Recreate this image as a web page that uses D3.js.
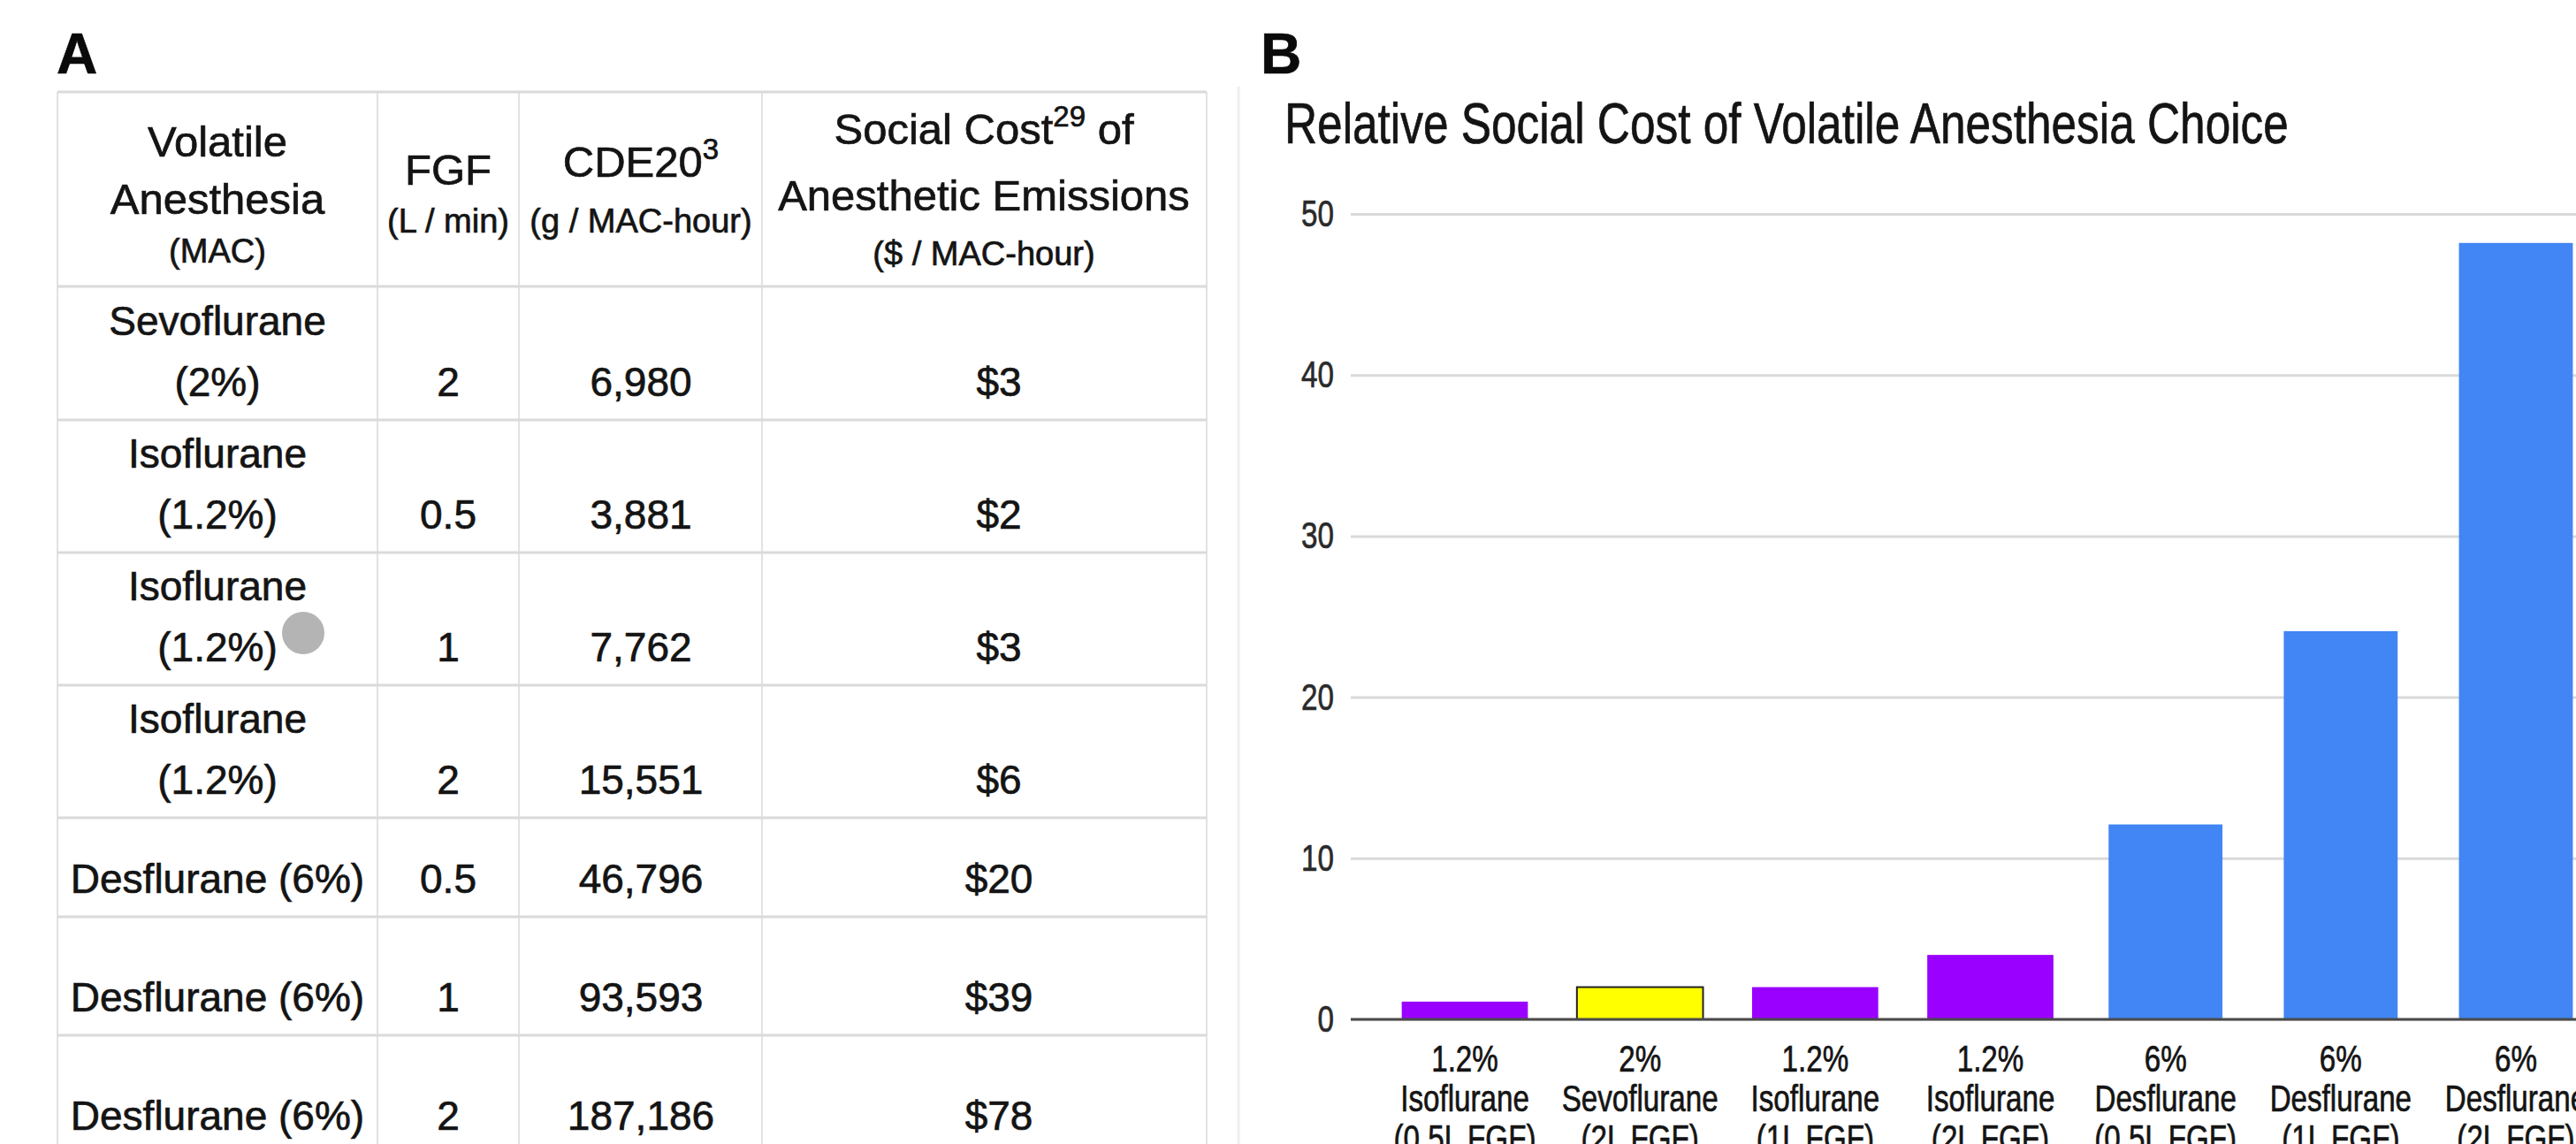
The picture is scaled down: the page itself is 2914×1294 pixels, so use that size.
<!DOCTYPE html>
<html>
<head>
<meta charset="utf-8">
<script src="https://cdn.jsdelivr.net/npm/d3@7"></script>
<style>
  body { margin: 0; background: #fff; }
  svg { display: block; font-family: "Liberation Sans", Arial, sans-serif; }
  svg text { stroke: currentColor; stroke-width: 0.7px; }
</style>
</head>
<body>
<script>
// ---- table data (panel A) ----
var agents = [["Sevoflurane", "(2%)"], ["Isoflurane", "(1.2%)"], ["Isoflurane", "(1.2%)"],
              ["Isoflurane", "(1.2%)"], ["Desflurane (6%)"], ["Desflurane (6%)"], ["Desflurane (6%)"]];
var fgf = ["2", "0.5", "1", "2", "0.5", "1", "2"];
var cde = ["6,980", "3,881", "7,762", "15,551", "46,796", "93,593", "187,186"];
var cost = ["$3", "$2", "$3", "$6", "$20", "$39", "$78"];

// header lines per column: [text, superscript, text after]
var headers = [
  [["Volatile"], ["Anesthesia"], ["(MAC)"]],
  [["FGF"], ["(L / min)"]],
  [["CDE20", "3"], ["(g / MAC-hour)"]],
  [["Social Cost", "29", " of"], ["Anesthetic Emissions"], ["($ / MAC-hour)"]]
];

// ---- chart data (panel B) ----
var chartTitle = "Relative Social Cost of Volatile Anesthesia Choice";
var barLabels = [
  ["1.2%", "Isoflurane", "(0.5L FGF)"],
  ["2%", "Sevoflurane", "(2L FGF)"],
  ["1.2%", "Isoflurane", "(1L FGF)"],
  ["1.2%", "Isoflurane", "(2L FGF)"],
  ["6%", "Desflurane", "(0.5L FGF)"],
  ["6%", "Desflurane", "(1L FGF)"],
  ["6%", "Desflurane", "(2L FGF)"]
];
var barValues = [1.1, 2, 2, 4, 12.1, 24.1, 48.2];
var barAgent = ["iso", "sevo", "iso", "iso", "des", "des", "des"];
var yTicks = [0, 10, 20, 30, 40, 50];

var width = 2914, height = 1294;
var ink = "#141414";

var svg = d3.select("body").append("svg")
    .attr("width", width)
    .attr("height", height);

svg.append("rect").attr("width", width).attr("height", height).attr("fill", "#fff");

// panel letters
svg.append("text").attr("x", 64).attr("y", 83).attr("font-size", 64)
    .attr("font-weight", "bold").style("color", "#0a0a0a").attr("fill", "#0a0a0a").text("A");
svg.append("text").attr("x", 1426).attr("y", 83).attr("font-size", 64)
    .attr("font-weight", "bold").style("color", "#0a0a0a").attr("fill", "#0a0a0a").text("B");

// ================= panel A : table =================
var colEdges = [65, 427, 587, 862, 1365];
var rowEdges = [104, 324, 475, 625, 775, 925, 1037, 1171, 1305];
var colMid = [246, 507, 725, 1130];
var headMid = [246, 507, 725, 1113];

var table = svg.append("g").attr("class", "table").style("color", ink);

// grid
table.selectAll(".vline")
    .data(colEdges)
    .enter().append("line")
    .attr("class", "vline")
    .attr("x1", function(d){ return d; })
    .attr("x2", function(d){ return d; })
    .attr("y1", rowEdges[0])
    .attr("y2", height)
    .attr("stroke", "#e2e2e2")
    .attr("stroke-width", 2);

table.selectAll(".hline")
    .data(rowEdges)
    .enter().append("line")
    .attr("class", "hline")
    .attr("x1", colEdges[0])
    .attr("x2", colEdges[colEdges.length - 1])
    .attr("y1", function(d){ return d; })
    .attr("y2", function(d){ return d; })
    .attr("stroke", "#dadada")
    .attr("stroke-width", 3);

// header text (baselines per column)
var headBase = [[177, 242, 297], [209, 263], [200, 263], [163, 238, 300]];
headers.forEach(function(lines, c){
    lines.forEach(function(ln, k){
        var small = (k === lines.length - 1 && lines.length > 1 && ln[0].charAt(0) === "(");
        var t = table.append("text")
            .attr("x", headMid[c])
            .attr("y", headBase[c][k])
            .attr("text-anchor", "middle")
            .attr("font-size", small ? 38 : 49)
            .attr("fill", ink);
        t.append("tspan").text(ln[0]);
        if (ln[1]) {
            t.append("tspan").attr("font-size", 33).attr("dy", -20).text(ln[1]);
            if (ln[2]) t.append("tspan").attr("dy", 20).text(ln[2]);
        }
    });
});

// body rows: text bottom aligned in each cell
agents.forEach(function(a, r){
    var bottom = rowEdges[r + 2];
    var base = bottom - 27;
    a.forEach(function(s, k){
        table.append("text")
            .attr("x", colMid[0])
            .attr("y", base - (a.length - 1 - k) * 69)
            .attr("text-anchor", "middle")
            .attr("font-size", 46)
            .attr("fill", ink)
            .text(s);
    });
    [fgf[r], cde[r], cost[r]].forEach(function(s, c){
        table.append("text")
            .attr("x", colMid[c + 1])
            .attr("y", base)
            .attr("text-anchor", "middle")
            .attr("font-size", 46)
            .attr("fill", ink)
            .text(s);
    });
});

// grey marker dot in the table
table.append("circle").attr("cx", 343).attr("cy", 716).attr("r", 24).attr("fill", "#b4b4b4");

// ================= panel B : bar chart =================
var squash = 0.79;   // the chart image is narrowed horizontally
var plotLeft = 1528;

var chart = svg.append("g").attr("class", "chart").style("color", ink);

// faint left edge of the chart picture
chart.append("line")
    .attr("x1", 1401).attr("x2", 1401).attr("y1", 98).attr("y2", height)
    .attr("stroke", "#eeeeee").attr("stroke-width", 3);

chart.append("text")
    .attr("transform", "translate(1453,162) scale(" + squash + ",1)")
    .attr("font-size", 65)
    .attr("fill", ink)
    .text(chartTitle);

var y = d3.scaleLinear()
    .domain([0, 50])
    .range([1153, 242]);

var x = d3.scaleBand()
    .domain(d3.range(barValues.length))
    .range([plotLeft, 2975])
    .paddingInner(0)
    .paddingOuter(0.151);

// y axis with gridlines
var yAxis = chart.append("g")
    .attr("transform", "translate(" + plotLeft + ",0)")
    .call(d3.axisLeft(y).tickValues(yTicks).tickSize(-(width - plotLeft)).tickPadding(0));
yAxis.select(".domain").remove();
yAxis.attr("font-size", 42).attr("font-family", null);
yAxis.selectAll(".tick line").attr("stroke", "#d9d9d9").attr("stroke-width", 3);
yAxis.selectAll(".tick text")
    .attr("fill", "#2a2a2a")
    .style("color", "#2a2a2a")
    .attr("x", -19 / squash)
    .attr("transform", "scale(" + squash + ",1)");

// bars
var fill = { iso: "#9900ff", sevo: "#ffff00", des: "#4285f4" };
var widthFrac = { iso: 0.72, sevo: 0.72, des: 0.65 };

chart.selectAll(".bar")
    .data(barValues)
    .enter().append("rect")
    .attr("class", "bar")
    .attr("x", function(d, i){ return x(i) + x.bandwidth() / 2 - x.step() * widthFrac[barAgent[i]] / 2; })
    .attr("width", function(d, i){ return x.step() * widthFrac[barAgent[i]]; })
    .attr("y", function(d){ return y(d); })
    .attr("height", function(d){ return y(0) - y(d); })
    .attr("fill", function(d, i){ return fill[barAgent[i]]; })
    .attr("stroke", function(d, i){ return barAgent[i] === "sevo" ? "#222" : "none"; })
    .attr("stroke-width", 2);

// baseline
chart.append("line")
    .attr("x1", plotLeft).attr("x2", width)
    .attr("y1", y(0)).attr("y2", y(0))
    .attr("stroke", "#4a4a4a").attr("stroke-width", 3);

// x axis, three-line category labels
var xAxis = chart.append("g")
    .attr("transform", "translate(0," + y(0) + ")")
    .call(d3.axisBottom(x).tickSize(0).tickFormat(function(){ return ""; }));
xAxis.select(".domain").remove();
xAxis.attr("font-size", 42).attr("font-family", null);
xAxis.selectAll(".tick text").each(function(i){
    var t = d3.select(this)
        .attr("y", 0).attr("dy", null)
        .attr("fill", ink)
        .style("color", ink)
        .attr("transform", "scale(" + squash + ",1)");
    barLabels[i].forEach(function(s, k){
        t.append("tspan").attr("x", 0).attr("y", 59 + k * 45).text(s);
    });
});
</script>
</body>
</html>
